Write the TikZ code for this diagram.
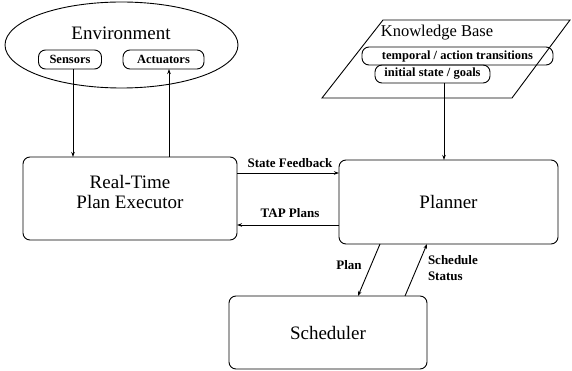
\documentclass[tikz,border=0pt]{standalone}
\usepackage{fontspec}
\setmainfont{Liberation Serif}
\usetikzlibrary{shapes.geometric,arrows.meta}

\begin{document}
\begin{tikzpicture}
  [x=1pt, y=-1pt, line width=0.9pt, >={Stealth[length=5pt,width=3.5pt]},
   every node/.style={inner sep=0pt, outer sep=0pt},
   unit/.style={draw, rounded corners=7pt, font=\fontsize{19}{20}\selectfont, align=center},
   pill/.style={draw, rounded corners=7pt, minimum height=19pt, font=\bfseries\fontsize{12.5}{14}\selectfont},
   lab/.style={font=\bfseries\fontsize{13}{16}\selectfont, align=left},
   title/.style={font=\fontsize{19}{21}\selectfont}]
  \useasboundingbox (0,0) rectangle (572,371);
  \node[draw, ellipse, minimum width=233pt, minimum height=86pt] (env) at (121.5,45) {};
  \node[title] (envtitle) at (121,33) {Environment};
  \node[pill, minimum width=63pt] (sensors) at (70,59.5) {Sensors};
  \node[pill, minimum width=81pt] (actuators) at (163.5,59.5) {Actuators};
  \draw (322,98) -- (383,20) -- (570,20) -- (512,98) -- cycle;
  \node[title, font=\fontsize{16.5}{18}\selectfont] (kbtitle) at (437,33) {Knowledge Base};
  \node[pill, minimum width=191pt, minimum height=18pt] (temporal) at (457.5,56) {temporal / action transitions};
  \node[pill, minimum width=115pt, minimum height=18pt] (initial) at (432.5,74) {initial state / goals};
  \node[unit, minimum width=214pt, minimum height=83pt, text depth=14pt] (rte) at (130,198.5) {Real-Time\\Plan Executor};
  \node[unit, minimum width=219pt, minimum height=84pt] (planner) at (448.5,202) {Planner};
  \node[unit, minimum width=198pt, minimum height=73pt] (scheduler) at (328,332.5) {Scheduler};
  \draw[->] ([xshift=3pt]sensors.south) -- ([xshift=3pt]sensors.south |- rte.north);
  \draw[->] ([xshift=5.5pt]actuators.south |- rte.north) -- ([xshift=5.5pt]actuators.south);
  \draw[->] ([xshift=11.5pt]initial.south) -- ([xshift=11.5pt]initial.south |- planner.north);
  \draw[->] (rte.east |- 0,173) -- (planner.west |- 0,173);
  \draw[->] (planner.west |- 0,225) -- (rte.east |- 0,225);
  \draw[->] ([xshift=-68.5pt]planner.south) -- ([xshift=30pt]scheduler.north);
  \draw[->] ([xshift=77pt]scheduler.north) -- ([xshift=-21.5pt]planner.south);
  \node[lab] (feedback) at (290,163) {State Feedback};
  \node[lab] (tap) at (290,213) {TAP Plans};
  \node[lab] (plan) at (349,265) {Plan};
  \node[lab, anchor=west] (status) at (428,268) {Schedule\\Status};
\end{tikzpicture}
\end{document}
